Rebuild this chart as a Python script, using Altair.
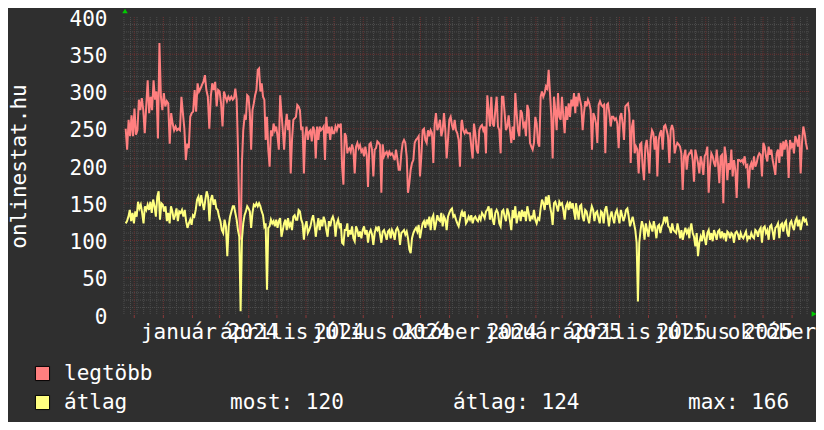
import altair as alt
import numpy as np
import pandas as pd

# ---------------- data ----------------
START = pd.Timestamp("2023-11-19")
# each block of readings covers this span of days after START
SEG_SPAN = [(2.85, 117.0), (118.3, 239.1), (239.8, 360.5),
            (361.2, 482.0), (482.7, 603.5), (604.2, 729.2)]

red_1 = [250, 222, 262, 240, 268, 240, 277, 242, 248, 289,
         275, 291, 275, 244, 280, 315, 271, 293, 275, 315,
         289, 300, 237, 365, 293, 275, 298, 280, 287, 284,
         230, 271, 257, 248, 253, 248, 250, 248, 293, 271,
         250, 208, 230, 224, 266, 271, 273, 302, 273, 311,
         300, 304, 309, 313, 322, 302, 293, 250, 293, 311,
         302, 313, 280, 302, 300, 284, 253, 300, 293, 287,
         293, 289, 293, 289]
red_2 = [291, 304, 289, 224, 132, 101, 204, 248, 266, 262,
         295, 293, 271, 222, 275, 284, 295, 302, 329, 331,
         300, 311, 293, 289, 235, 266, 222, 199, 248, 240,
         257, 248, 253, 240, 222, 295, 271, 248, 222, 253,
         270, 248, 262, 190, 235, 262, 264, 266, 282, 280,
         275, 248, 253, 190, 240, 253, 235, 246, 248, 233,
         253, 248, 210, 253, 235, 253, 248, 250, 253, 208,
         266, 244, 253, 235, 253, 244, 244, 253, 248, 255,
         253, 257, 199, 175, 244, 240, 217]
red_3 = [222, 224, 219, 229, 222, 190, 226, 231, 224, 228,
         219, 222, 213, 226, 215, 172, 229, 231, 222, 186,
         222, 224, 233, 231, 228, 164, 229, 213, 217, 219,
         213, 219, 215, 217, 213, 208, 222, 210, 195, 195,
         217, 231, 235, 231, 213, 164, 177, 195, 204, 208,
         231, 235, 237, 240, 186, 213, 248, 250, 235, 231,
         248, 240, 248, 244, 204, 257, 271, 248, 253, 262,
         240, 248, 271, 248, 210, 235, 262, 266, 255, 248,
         262, 248, 244, 235, 199, 257]
red_4 = [262, 248, 244, 248, 244, 244, 244, 226, 210, 257,
         244, 222, 217, 248, 253, 255, 248, 253, 217, 295,
         275, 253, 293, 257, 253, 275, 293, 253, 248, 217,
         293, 293, 271, 248, 253, 268, 248, 231, 253, 235,
         298, 271, 248, 240, 275, 271, 253, 257, 240, 282,
         275, 231, 226, 222, 231, 266, 257, 231, 226, 293,
         300, 293, 298, 307, 304, 329, 298, 266, 210, 293,
         275, 248, 298, 266, 262, 293, 266, 244, 280, 262,
         284, 266, 289, 280, 298, 271]
red_5 = [293, 280, 298, 289, 280, 248, 271, 287, 280, 289,
         284, 275, 222, 271, 266, 257, 231, 282, 287, 282,
         280, 282, 217, 282, 284, 271, 253, 266, 266, 262,
         264, 257, 224, 266, 271, 257, 235, 280, 282, 284,
         271, 204, 253, 262, 217, 226, 222, 190, 229, 231,
         199, 181, 226, 235, 217, 190, 235, 248, 244, 222,
         240, 186, 235, 244, 248, 222, 253, 255, 248, 240,
         204, 248, 255, 248, 217, 226, 231, 229, 226, 217,
         168, 213, 222, 195, 213, 217]
red_6 = [217, 222, 208, 179, 222, 213, 204, 190, 213, 204,
         188, 213, 217, 226, 164, 199, 217, 213, 204, 199,
         222, 204, 177, 213, 215, 150, 226, 213, 181, 204,
         195, 222, 186, 208, 195, 157, 208, 208, 206, 208,
         204, 213, 199, 201, 170, 199, 204, 195, 213, 199,
         204, 213, 217, 215, 186, 231, 226, 213, 206, 226,
         215, 222, 208, 199, 188, 217, 222, 204, 231, 213,
         233, 222, 235, 226, 184, 235, 226, 231, 217, 240,
         235, 226, 242, 190, 231, 253, 244, 231, 222]

yel_1 = [123, 126, 132, 141, 126, 137, 123, 139, 132, 152, 143, 148,
         137, 123, 146, 141, 148, 141, 152, 137, 155, 146, 132, 159,
         166, 128, 150, 148, 139, 146, 126, 137, 123, 146, 139, 128,
         134, 143, 126, 139, 137, 141, 132, 141, 126, 117, 123, 128,
         121, 134, 132, 141, 155, 159, 146, 161, 150, 141, 155, 166,
         159, 126, 155, 161, 148, 155, 143, 141, 132, 126, 114, 110,
         128, 119, 79, 119, 132, 139, 146]
yel_2 = [146, 137, 128, 114, 105, 5, 101, 123, 134, 139,
         146, 143, 139, 117, 137, 148, 146, 150, 146, 150,
         146, 139, 134, 119, 123, 34, 117, 119, 128, 123,
         126, 119, 128, 117, 126, 130, 105, 114, 123, 128,
         114, 130, 119, 123, 114, 132, 134, 128, 128, 141,
         139, 128, 123, 101, 119, 126, 110, 114, 119, 128,
         134, 123, 105, 119, 130, 114, 128, 119, 132, 126,
         114, 105, 126, 119, 128, 132, 126, 105, 123, 128,
         119, 123, 97, 95, 114, 114, 123]
yel_3 = [105, 114, 108, 119, 103, 99, 119, 114, 105, 112,
         103, 114, 119, 108, 114, 97, 110, 114, 108, 94,
         110, 117, 114, 119, 108, 97, 112, 114, 108, 101,
         112, 114, 103, 114, 110, 101, 114, 117, 112, 94,
         110, 112, 114, 108, 112, 103, 88, 83, 103, 110,
         114, 117, 112, 121, 103, 114, 123, 126, 117, 128,
         123, 132, 114, 130, 134, 114, 123, 134, 128, 126,
         137, 119, 132, 128, 114, 132, 137, 141, 143, 132,
         134, 128, 123, 119, 128, 137]
yel_4 = [139, 132, 139, 123, 126, 132, 128, 134, 123, 130,
         132, 128, 126, 132, 128, 137, 134, 130, 139, 141,
         146, 128, 143, 128, 121, 137, 141, 137, 123, 119,
         139, 141, 132, 126, 143, 137, 126, 114, 141, 130,
         146, 123, 132, 139, 126, 141, 132, 139, 126, 146,
         137, 126, 132, 130, 141, 128, 123, 130, 128, 143,
         155, 150, 141, 159, 148, 161, 146, 137, 121, 150,
         152, 146, 139, 152, 148, 150, 141, 128, 146, 150,
         141, 152, 143, 150, 139, 128]
yel_5 = [150, 139, 128, 146, 148, 132, 126, 141, 139, 130,
         123, 137, 146, 141, 126, 137, 139, 130, 123, 139,
         137, 123, 141, 146, 134, 119, 132, 139, 130, 123,
         137, 141, 132, 123, 141, 134, 126, 132, 141, 143,
         132, 119, 126, 132, 123, 114, 97, 18, 97,
         114, 126, 119, 101, 123, 114, 105, 123, 119, 112,
         126, 117, 103, 119, 121, 110, 119, 123, 132, 126,
         132, 119, 117, 110, 123, 114, 112, 110, 123, 114,
         103, 114, 101, 110, 117, 110, 114, 103]
yel_6 = [114, 123, 110, 105, 92, 110, 79, 97, 105, 99,
         114, 103, 94, 110, 114, 101, 110, 99, 114, 108,
         101, 112, 114, 103, 112, 105, 110, 99, 112, 110,
         103, 110, 108, 97, 110, 112, 108, 101, 110, 105,
         103, 108, 112, 101, 105, 103, 110, 105, 103, 114,
         112, 105, 114, 117, 97, 117, 119, 110, 114, 101,
         119, 121, 112, 101, 117, 119, 123, 103, 121, 123,
         112, 123, 126, 110, 105, 123, 126, 119, 114, 126,
         130, 119, 128, 114, 123, 132, 126, 128, 120]

series_names = ["legtöbb", "átlag"]
stat_labels = ["most: 120", "átlag: 124", "max: 166"]
y_title = "onlinestat.hu"
y_ticks = [0, 50, 100, 150, 200, 250, 300, 350, 400]
month_label_dates = ["2024-01-17", "2024-04-17", "2024-07-17", "2024-10-17",
                     "2025-01-17", "2025-04-17", "2025-07-17", "2025-10-10"]
month_labels = ["január", "április", "július", "október",
                "január", "április", "július", "október"]
year_label_dates = ["2024-04-05", "2024-07-06", "2024-10-06", "2025-01-06",
                    "2025-04-06", "2025-07-06", "2025-10-06"]
year_labels = ["2024", "2024", "2024", "2024", "2025", "2025", "2025"]

# ---------------- styling ----------------
FONT = "DejaVu Sans Mono"
BG = "#2f2f2f"
PLOT_BG = "#222222"
GRID_MINOR = "#4d4d4d"
GRID_MAJOR = "#6a3030"
TICK_MAJOR = "#8a3a3a"
RED = "#ff7f7f"
YEL = "#ffff80"
WHITE = "#ffffff"


def series_frame(blocks, name):
    ts, vs = [], []
    for (a, b), vals in zip(SEG_SPAN, blocks):
        for d, v in zip(np.linspace(a, b, len(vals)), vals):
            ts.append((START + pd.Timedelta(days=float(d))).round("min"))
            vs.append(v)
    return pd.DataFrame({"t": ts, "v": vs, "s": name})


red_df = series_frame([red_1, red_2, red_3, red_4, red_5, red_6], series_names[0])
yel_df = series_frame([yel_1, yel_2, yel_3, yel_4, yel_5, yel_6], series_names[1])


def dt(s):
    y, m, d = map(int, s.split("-"))
    return alt.DateTime(year=y, month=m, date=d)


all_dates = month_label_dates + year_label_dates
all_labels = month_labels + year_labels
label_expr = ("[" + ",".join(f"'{l}'" for l in all_labels) + "][indexof(["
              + ",".join(f"'{d}'" for d in all_dates)
              + "], timeFormat(datum.value, '%Y-%m-%d'))]")

x_scale = alt.Scale(domain=[dt("2023-11-19"), dt("2025-11-19")])
y_scale = alt.Scale(domain=[0, 400], nice=False, zero=True)

x_axis = alt.Axis(values=[dt(d) for d in all_dates], labelExpr=label_expr,
                  labelOverlap=False, labelFlush=False, labelBound=False,
                  labelFont=FONT, labelFontSize=21, labelColor=WHITE,
                  labelBaseline="alphabetic", labelPadding=23, labelAlign="center",
                  ticks=False, tickSize=0, domain=False, grid=False, title=None)
y_axis = alt.Axis(values=y_ticks, labelFont=FONT, labelFontSize=21, labelColor=WHITE,
                  labelPadding=16, labelBaseline="alphabetic", labelOffset=8,
                  labelOverlap=False, ticks=False, tickSize=0, domain=False, grid=False,
                  title=y_title, titleFont=FONT, titleFontSize=21, titleColor=WHITE,
                  titleFontWeight="normal", titleAngle=270, titleAlign="center",
                  titleBaseline="alphabetic", titleX=-98, titleY=149)

X = alt.X("t:T", scale=x_scale, axis=x_axis)
Y = alt.Y("v:Q", scale=y_scale, axis=y_axis)

weeks = pd.DataFrame({"t": pd.date_range("2023-11-20", "2025-11-17", freq="W-MON")})
months = pd.DataFrame({"t": pd.date_range("2023-12-01", "2025-11-01", freq="MS")})
minor_h = pd.DataFrame({"v": [v for v in range(10, 400, 10) if v % 50]})
major_h = pd.DataFrame({"v": list(range(50, 400, 50))})

grid_wk = alt.Chart(weeks).mark_rule(color=GRID_MINOR, strokeDash=[1, 1], strokeWidth=1).encode(x=X)
grid_h10 = alt.Chart(minor_h).mark_rule(color=GRID_MINOR, strokeDash=[1, 1], strokeWidth=1).encode(y=Y)
grid_mo = alt.Chart(months).mark_rule(color=GRID_MAJOR, strokeDash=[1, 1], strokeWidth=1).encode(x=X)
grid_h50 = alt.Chart(major_h).mark_rule(color=GRID_MAJOR, strokeDash=[1, 1], strokeWidth=1).encode(y=Y)
# short month ticks just below the plot area
month_ticks = alt.Chart(months).mark_rule(color=TICK_MAJOR, strokeWidth=1).encode(
    x=X, y=alt.value(298), y2=alt.value(301))

line_red = alt.Chart(red_df).mark_line(color=RED, strokeWidth=2, interpolate="linear").encode(x=X, y=Y)
line_yel = alt.Chart(yel_df).mark_line(color=YEL, strokeWidth=2, interpolate="linear").encode(x=X, y=Y)

legend_layer = alt.Chart(pd.DataFrame({"s": series_names})).mark_square(size=225, opacity=0).encode(
    color=alt.Color("s:N", scale=alt.Scale(domain=series_names, range=[RED, YEL]),
                    legend=alt.Legend(title=None, orient="none", legendX=-91, legendY=346,
                                      direction="vertical", symbolType="square", symbolSize=200,
                                      symbolStrokeColor="#000000", symbolStrokeWidth=1,
                                      symbolOpacity=1, labelFont=FONT, labelFontSize=21,
                                      labelColor=WHITE, labelOffset=11, rowPadding=7,
                                      padding=0, offset=0))
)


def stat(text, x):
    return alt.Chart(pd.DataFrame({"label": [text]})).mark_text(
        font=FONT, fontSize=21, color=WHITE, align="left", baseline="alphabetic"
    ).encode(text="label:N", x=alt.value(x), y=alt.value(392))


stats = [stat(stat_labels[0], 107), stat(stat_labels[1], 330), stat(stat_labels[2], 565)]

one = pd.DataFrame({"a": [0]})
arrow_up = alt.Chart(one).mark_point(shape="triangle-up", filled=True, size=30, color="#00cc00", opacity=1).encode(
    x=alt.value(2), y=alt.value(-6))
arrow_right = alt.Chart(one).mark_point(shape="triangle-right", filled=True, size=30, color="#00cc00", opacity=1).encode(
    x=alt.value(691), y=alt.value(297))

# page has an 8px margin: the whole drawing is 808 x 414, the plot area 686 x 298
chart = alt.layer(
    grid_wk, grid_h10, grid_mo, grid_h50, month_ticks, line_red, line_yel, legend_layer,
    *stats, arrow_up, arrow_right
).properties(
    width=686, height=298,
    padding={"left": 115, "top": 9, "right": 7, "bottom": 107},
    autosize=alt.AutoSizeParams(type="none"),
    background=BG,
    usermeta={"embedOptions": {"defaultStyle": "html,body{background:#2f2f2f;overflow:hidden}"}},
).configure_view(fill=PLOT_BG, strokeOpacity=0)

chart.save("out.html", embed_options={"renderer": "svg", "actions": False})
